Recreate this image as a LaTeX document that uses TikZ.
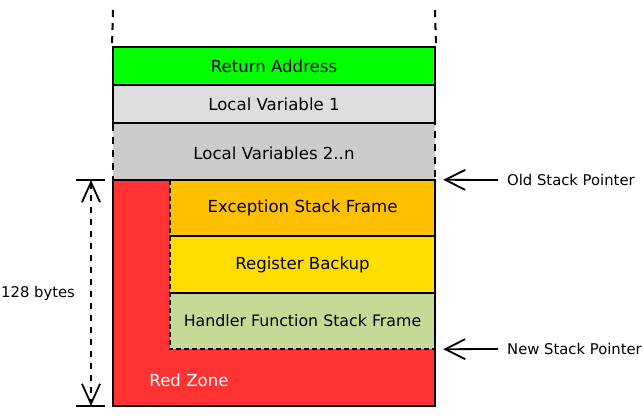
\documentclass[tikz,border=0pt]{standalone}
\usepackage{fontspec}
\setmainfont{DejaVu Sans}
\usetikzlibrary{arrows.meta}
\definecolor{retgreen}{HTML}{00FF00}
\definecolor{lvone}{HTML}{DDDDDD}
\definecolor{lvn}{HTML}{CCCCCC}
\definecolor{redzone}{HTML}{FF3333}
\definecolor{excframe}{HTML}{FFC000}
\definecolor{regbackup}{HTML}{FFDD00}
\definecolor{handler}{HTML}{C6D997}
\begin{document}
\begin{tikzpicture}[x=1pt,y=-1pt,
  outline/.style={line width=2pt},
  guide/.style={line width=2pt, dash pattern=on 7pt off 6pt},
  fine guide/.style={line width=2pt, dash pattern=on 5pt off 3pt},
  frame/.style={rectangle, inner sep=0pt, minimum width=322pt,
    font=\fontsize{16.6}{20}\selectfont},
  subframe/.style={rectangle, inner sep=0pt, minimum width=265pt,
    font=\fontsize{16.6}{20}\selectfont},
  side label/.style={inner sep=0pt, anchor=west, font=\fontsize{14.8}{18}\selectfont},
  pointer/.style={line width=1.8pt, -{Straight Barb[length=20pt,width=20pt]}},
  span/.style={line width=1.8pt, dash pattern=on 6pt off 6pt,
    {Straight Barb[length=20pt,width=18pt]}-{Straight Barb[length=20pt,width=18pt]}}
]
\useasboundingbox (0,0) rectangle (643,416);

% guides above the stack column
\coordinate (gl) at (113,10);
\coordinate (gr) at (435,10);

% caller's frame
\node[frame, fill=lvn, draw, guide, minimum height=57pt] (lvn) at (274,151.5) {};
\node[frame] (lvnt) at (274,153) {Local Variables 2..n};
\node[frame, fill=retgreen, draw, outline, minimum height=38pt] (ret) at (274,66) {Return Address};
\node[frame, fill=lvone, draw, outline, minimum height=38pt] (lv1) at (274,104) {Local Variable 1};
\draw[guide] (gl) -- (ret.north west);
\draw[guide] (gr) -- (ret.north east);

% red zone and the frames pushed into it
\node[frame, fill=redzone, minimum height=226pt] (rz) at (274,293) {};
\node[subframe, fill=excframe, minimum height=56pt] (exc) at (302.5,208) {Exception Stack Frame};
\node[subframe, fill=regbackup, minimum height=57pt] (reg) at (302.5,264.5) {Register Backup};
\node[subframe, fill=handler, minimum height=56pt, font=\fontsize{15.8}{19}\selectfont] (hnd) at (302.5,321) {Handler Function Stack Frame};
\draw[outline] (reg.north west) -- (reg.north east);
\draw[outline] (hnd.north west) -- (hnd.north east);
\draw[fine guide] (exc.north west) -- (hnd.south west) -- (hnd.south east);
\draw[outline] (rz.north west) rectangle (rz.south east);
\node[text=white, inner sep=0pt, font=\fontsize{16.6}{20}\selectfont] (rzl) at (189,380) {Red Zone};

% size of the red zone
\coordinate (dtop) at (91,180);
\coordinate (dbot) at (91,406);
\draw[outline] ([xshift=-15pt]dtop) -- ([xshift=14pt]dtop);
\draw[outline] ([xshift=-15pt]dbot) -- ([xshift=14pt]dbot);
\draw[span] (dtop) -- (dbot);
\node[side label] (size) at (1,293) {128 bytes};

% stack pointers
\node[side label] (osp) at (507,180) {Old Stack Pointer};
\node[side label] (nsp) at (507,349) {New Stack Pointer};
\draw[pointer] ([xshift=-9pt]osp.west) -- ([xshift=8pt]exc.north east);
\draw[pointer] ([xshift=-9pt]nsp.west) -- ([xshift=8pt]hnd.south east);
\end{tikzpicture}
\end{document}
